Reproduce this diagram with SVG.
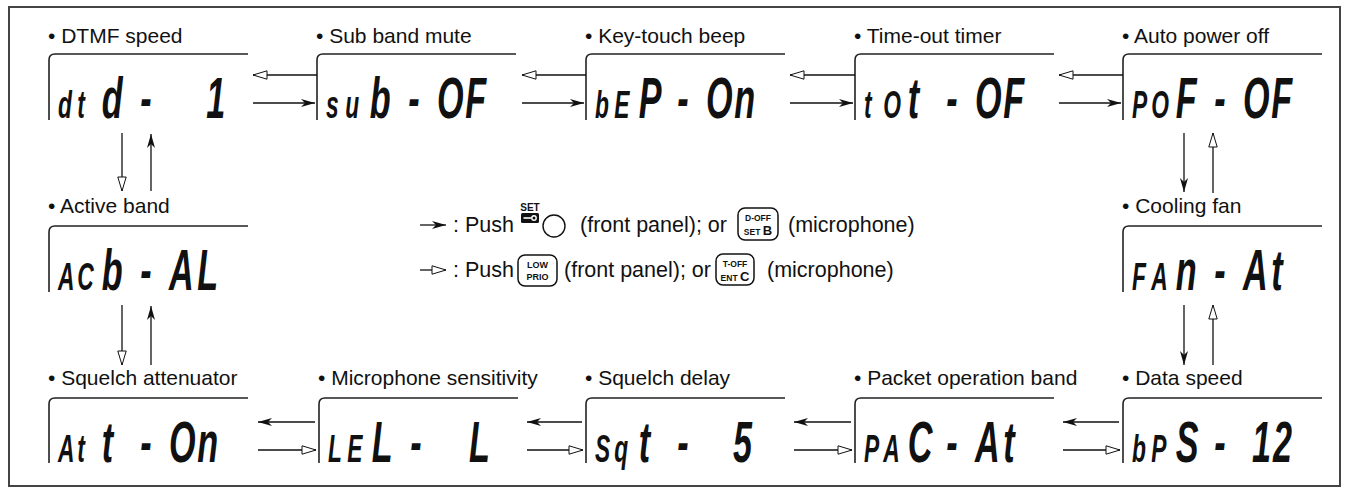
<svg xmlns="http://www.w3.org/2000/svg" width="1349" height="494" viewBox="0 0 1349 494">
<style>
.lbl{font-family:"Liberation Sans",Arial,sans-serif;font-size:21px;fill:#111}
.leg{font-family:"Liberation Sans",Arial,sans-serif;font-size:21.5px;fill:#111}
.box{fill:none;stroke:#222;stroke-width:1.6}
.lcd{font-family:"Liberation Sans",Arial,sans-serif;font-weight:bold;font-style:italic;fill:#111}
.s{font-size:38px}
.b{font-size:57px}
.ln{fill:none;stroke:#111;stroke-width:1.3}
.key{fill:#fff;stroke:#111;stroke-width:1.5}
.kt{font-family:"Liberation Sans",Arial,sans-serif;font-weight:bold;fill:#111;text-anchor:middle}
</style>
<defs>
<marker id="fh" markerUnits="userSpaceOnUse" markerWidth="16" markerHeight="10" refX="14" refY="5" orient="auto" overflow="visible"><path d="M14,5 L0,1 L4,5 L0,9 Z" fill="#111"/></marker>
<marker id="oh" markerUnits="userSpaceOnUse" markerWidth="16" markerHeight="10" refX="14" refY="5" orient="auto" overflow="visible"><path d="M14,5 L0,0.8 L0,9.2 Z" fill="#fff" stroke="#111" stroke-width="1"/></marker>
</defs>
<rect x="0" y="0" width="1349" height="494" fill="#fff"/>
<rect x="9" y="7" width="1331" height="479" fill="none" stroke="#444" stroke-width="2"/>

<!-- Row 1 -->
<g id="n-dtmf">
<text class="lbl" x="48" y="43">• DTMF speed</text>
<path class="box" d="M49,120 V60 Q49,54 55,54 H248"/>
<g transform="translate(49,118) scale(0.6,1)"><text class="lcd"><tspan class="s" x="15">d</tspan><tspan class="s" x="47">t</tspan><tspan class="b" x="88">d</tspan><tspan class="b" x="152">-</tspan> <tspan class="b" x="262">1</tspan></text></g>
</g>
<g id="n-sub">
<text class="lbl" x="316" y="43">• Sub band mute</text>
<path class="box" d="M317,120 V60 Q317,54 323,54 H516"/>
<g transform="translate(317,118) scale(0.6,1)"><text class="lcd"><tspan class="s" x="15">s</tspan><tspan class="s" x="47">u</tspan><tspan class="b" x="88">b</tspan><tspan class="b" x="152">-</tspan><tspan class="b" x="200">O</tspan><tspan class="b" x="247">F</tspan></text></g>
</g>
<g id="n-key">
<text class="lbl" x="585" y="43">• Key-touch beep</text>
<path class="box" d="M586,120 V60 Q586,54 592,54 H785"/>
<g transform="translate(586,118) scale(0.6,1)"><text class="lcd"><tspan class="s" x="15">b</tspan><tspan class="s" x="47">E</tspan><tspan class="b" x="88">P</tspan><tspan class="b" x="152">-</tspan><tspan class="b" x="200">O</tspan><tspan class="b" x="247">n</tspan></text></g>
</g>
<g id="n-tot">
<text class="lbl" x="854" y="43">• Time-out timer</text>
<path class="box" d="M855,120 V60 Q855,54 861,54 H1054"/>
<g transform="translate(855,118) scale(0.6,1)"><text class="lcd"><tspan class="s" x="15">t</tspan><tspan class="s" x="47">O</tspan><tspan class="b" x="88">t</tspan><tspan class="b" x="152">-</tspan><tspan class="b" x="200">O</tspan><tspan class="b" x="247">F</tspan></text></g>
</g>
<g id="n-pof">
<text class="lbl" x="1122" y="43">• Auto power off</text>
<path class="box" d="M1123,120 V60 Q1123,54 1129,54 H1322"/>
<g transform="translate(1123,118) scale(0.6,1)"><text class="lcd"><tspan class="s" x="15">P</tspan><tspan class="s" x="47">O</tspan><tspan class="b" x="88">F</tspan><tspan class="b" x="152">-</tspan><tspan class="b" x="200">O</tspan><tspan class="b" x="247">F</tspan></text></g>
</g>

<!-- Row 2 -->
<g id="n-acb">
<text class="lbl" x="48" y="213">• Active band</text>
<path class="box" d="M49,292 V232 Q49,226 55,226 H248"/>
<g transform="translate(49,290) scale(0.6,1)"><text class="lcd"><tspan class="s" x="15">A</tspan><tspan class="s" x="47">C</tspan><tspan class="b" x="88">b</tspan><tspan class="b" x="152">-</tspan><tspan class="b" x="200">A</tspan><tspan class="b" x="247">L</tspan></text></g>
</g>
<g id="n-fan">
<text class="lbl" x="1122" y="213">• Cooling fan</text>
<path class="box" d="M1123,292 V232 Q1123,226 1129,226 H1322"/>
<g transform="translate(1123,290) scale(0.6,1)"><text class="lcd"><tspan class="s" x="15">F</tspan><tspan class="s" x="47">A</tspan><tspan class="b" x="88">n</tspan><tspan class="b" x="152">-</tspan><tspan class="b" x="200">A</tspan><tspan class="b" x="247">t</tspan></text></g>
</g>

<!-- Row 3 -->
<g id="n-att">
<text class="lbl" x="48" y="385">• Squelch attenuator</text>
<path class="box" d="M49,463 V404 Q49,398 55,398 H248"/>
<g transform="translate(49,462) scale(0.6,1)"><text class="lcd"><tspan class="s" x="15">A</tspan><tspan class="s" x="47">t</tspan><tspan class="b" x="88">t</tspan><tspan class="b" x="152">-</tspan><tspan class="b" x="200">O</tspan><tspan class="b" x="247">n</tspan></text></g>
</g>
<g id="n-lel">
<text class="lbl" x="318" y="385">• Microphone sensitivity</text>
<path class="box" d="M319,463 V404 Q319,398 325,398 H518"/>
<g transform="translate(319,462) scale(0.6,1)"><text class="lcd"><tspan class="s" x="15">L</tspan><tspan class="s" x="47">E</tspan><tspan class="b" x="88">L</tspan><tspan class="b" x="152">-</tspan> <tspan class="b" x="250">L</tspan></text></g>
</g>
<g id="n-sqt">
<text class="lbl" x="585" y="385">• Squelch delay</text>
<path class="box" d="M586,463 V404 Q586,398 592,398 H785"/>
<g transform="translate(586,462) scale(0.6,1)"><text class="lcd"><tspan class="s" x="15">S</tspan><tspan class="s" x="47">q</tspan><tspan class="b" x="88">t</tspan><tspan class="b" x="152">-</tspan> <tspan class="b" x="245">5</tspan></text></g>
</g>
<g id="n-pac">
<text class="lbl" x="854" y="385">• Packet operation band</text>
<path class="box" d="M855,463 V404 Q855,398 861,398 H1054"/>
<g transform="translate(855,462) scale(0.6,1)"><text class="lcd"><tspan class="s" x="15">P</tspan><tspan class="s" x="47">A</tspan><tspan class="b" x="88">C</tspan><tspan class="b" x="152">-</tspan><tspan class="b" x="200">A</tspan><tspan class="b" x="247">t</tspan></text></g>
</g>
<g id="n-bps">
<text class="lbl" x="1122" y="385">• Data speed</text>
<path class="box" d="M1123,463 V404 Q1123,398 1129,398 H1322"/>
<g transform="translate(1123,462) scale(0.6,1)"><text class="lcd"><tspan class="s" x="15">b</tspan><tspan class="s" x="47">P</tspan><tspan class="b" x="88">S</tspan><tspan class="b" x="152">-</tspan> <tspan class="b" x="215">1</tspan><tspan class="b" x="250">2</tspan></text></g>
</g>

<!-- Connectors -->
<g id="connectors">
<path class="ln" d="M317,75 H253" marker-end="url(#oh)"/>
<path class="ln" d="M253,103 H315" marker-end="url(#fh)"/>
<path class="ln" d="M586,75 H522" marker-end="url(#oh)"/>
<path class="ln" d="M522,103 H584" marker-end="url(#fh)"/>
<path class="ln" d="M855,75 H790" marker-end="url(#oh)"/>
<path class="ln" d="M790,103 H853" marker-end="url(#fh)"/>
<path class="ln" d="M1123,75 H1059" marker-end="url(#oh)"/>
<path class="ln" d="M1059,103 H1121" marker-end="url(#fh)"/>
<path class="ln" d="M315,422 H258" marker-end="url(#fh)"/>
<path class="ln" d="M258,450 H316" marker-end="url(#oh)"/>
<path class="ln" d="M582,422 H527" marker-end="url(#fh)"/>
<path class="ln" d="M527,450 H583" marker-end="url(#oh)"/>
<path class="ln" d="M851,422 H794" marker-end="url(#fh)"/>
<path class="ln" d="M794,450 H852" marker-end="url(#oh)"/>
<path class="ln" d="M1119,422 H1063" marker-end="url(#fh)"/>
<path class="ln" d="M1063,450 H1120" marker-end="url(#oh)"/>
<path class="ln" d="M122,133 V191" marker-end="url(#oh)"/>
<path class="ln" d="M151,191 V134" marker-end="url(#fh)"/>
<path class="ln" d="M122,305 V365" marker-end="url(#oh)"/>
<path class="ln" d="M151,365 V306" marker-end="url(#fh)"/>
<path class="ln" d="M1184,133 V192" marker-end="url(#fh)"/>
<path class="ln" d="M1213,193 V133" marker-end="url(#oh)"/>
<path class="ln" d="M1184,305 V365" marker-end="url(#fh)"/>
<path class="ln" d="M1213,365 V305" marker-end="url(#oh)"/>
</g>

<!-- Legend -->
<g id="legend">
<path class="ln" d="M420,225 H446" marker-end="url(#fh)"/>
<text class="leg" x="453" y="232">: Push</text>
<text class="kt" x="530" y="211" font-size="10">SET</text>
<rect x="521" y="213" width="18" height="10" rx="1.5" fill="#111"/>
<line x1="523.5" y1="218" x2="531.5" y2="218" stroke="#fff" stroke-width="1.6"/>
<circle cx="534" cy="218" r="2.2" fill="none" stroke="#fff" stroke-width="1.4"/>
<circle cx="554" cy="226" r="11" fill="none" stroke="#111" stroke-width="1.4"/>
<text class="leg" x="580" y="232">(front panel); or</text>
<rect class="key" x="738" y="208" width="40" height="32" rx="7"/>
<text class="kt" x="758" y="221" font-size="8.5">D-OFF</text>
<text class="kt" x="758" y="235" font-size="8.5">SET <tspan font-size="13">B</tspan></text>
<text class="leg" x="788" y="232">(microphone)</text>

<path class="ln" d="M420,270 H446" marker-end="url(#oh)"/>
<text class="leg" x="453" y="277">: Push</text>
<rect class="key" x="518" y="255" width="39" height="31" rx="7"/>
<text class="kt" x="537.5" y="268" font-size="9">LOW</text>
<text class="kt" x="537.5" y="280" font-size="9">PRIO</text>
<text class="leg" x="564" y="277">(front panel); or</text>
<rect class="key" x="716" y="254" width="38" height="31" rx="7"/>
<text class="kt" x="735" y="267" font-size="8.5">T-OFF</text>
<text class="kt" x="735" y="281" font-size="8.5">ENT <tspan font-size="13">C</tspan></text>
<text class="leg" x="767" y="277">(microphone)</text>
</g>
</svg>
